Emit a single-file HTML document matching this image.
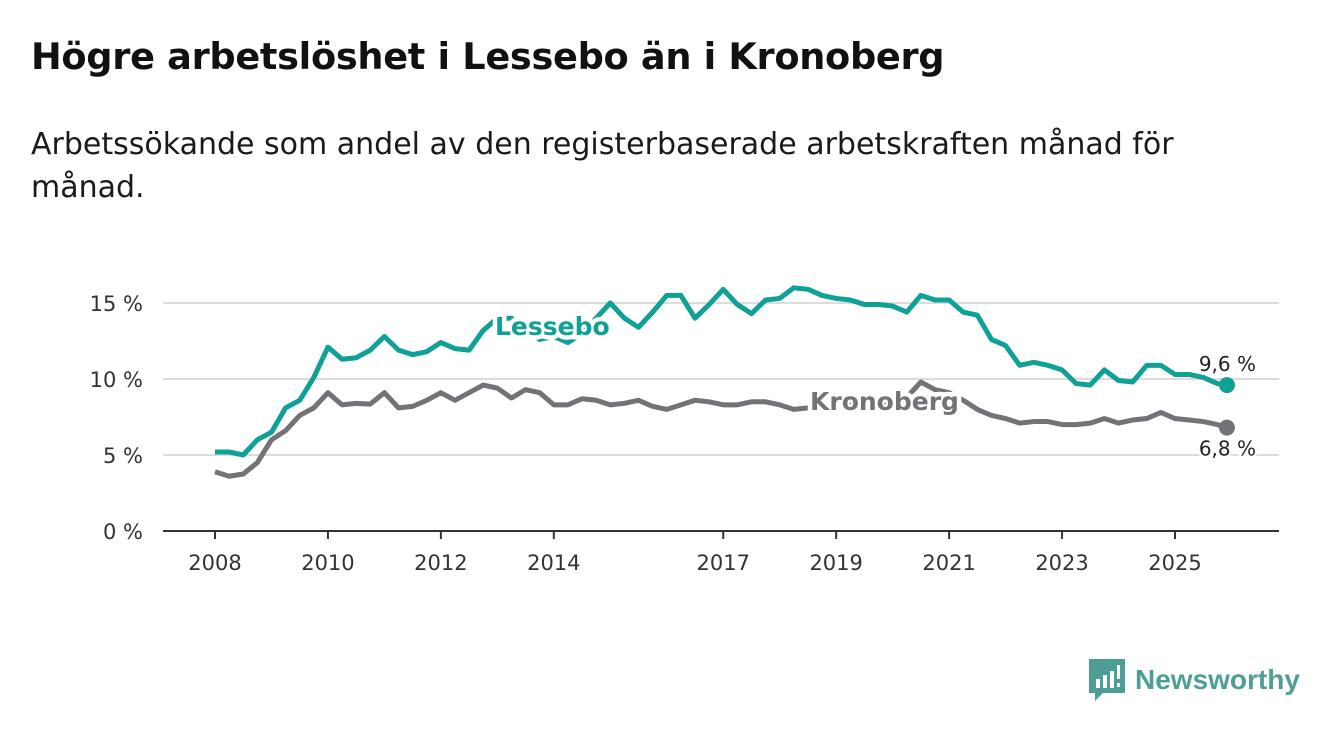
<!DOCTYPE html>
<html><head><meta charset="utf-8">
<style>
body{margin:0;background:#fff;width:1340px;height:734px;overflow:hidden;font-family:"DejaVu Sans","Liberation Sans",sans-serif;color:#111}
h1{position:absolute;left:31px;top:35px;margin:0;font-size:36.7px;font-weight:bold;letter-spacing:-0.3px}
p{position:absolute;left:31px;top:123px;margin:0;font-size:30px;line-height:43px;width:1250px;color:#1a1a1a}
svg{position:absolute;left:0;top:0}
</style></head><body>
<h1>Högre arbetslöshet i Lessebo än i Kronoberg</h1>
<p>Arbetssökande som andel av den registerbaserade arbetskraften månad för<br>månad.</p>
<svg id="c" width="1340" height="734"></svg>
<script>
const lessebo=[5.2,5.2,5.0,6.0,6.5,8.1,8.6,10.1,12.1,11.3,11.4,11.9,12.8,11.9,11.6,11.8,12.4,12.0,11.9,13.2,14.0,14.0,13.3,12.6,12.8,12.4,13.0,14.0,15.0,14.0,13.4,14.4,15.5,15.5,14.0,14.9,15.9,14.9,14.3,15.2,15.3,16.0,15.9,15.5,15.3,15.2,14.9,14.9,14.8,14.4,15.5,15.2,15.2,14.4,14.2,12.6,12.2,10.9,11.1,10.9,10.6,9.7,9.6,10.6,9.9,9.8,10.9,10.9,10.3,10.3,10.1,9.7,9.6];
const kronoberg=[3.9,3.6,3.75,4.5,6.0,6.6,7.6,8.1,9.1,8.3,8.4,8.35,9.1,8.1,8.2,8.6,9.1,8.6,9.1,9.6,9.4,8.75,9.3,9.1,8.3,8.3,8.7,8.6,8.3,8.4,8.6,8.2,8.0,8.3,8.6,8.5,8.3,8.3,8.5,8.5,8.3,8.0,8.1,8.3,8.3,8.4,8.2,8.4,8.6,8.8,9.8,9.3,9.1,8.6,8.0,7.6,7.4,7.1,7.2,7.2,7.0,7.0,7.1,7.4,7.1,7.3,7.4,7.8,7.4,7.3,7.2,7.0,6.8];
const dates=[];for(let i=0;i<72;i++)dates.push(2008+i*0.25);dates.push(2025.92);
const yTicks=[0,5,10,15];
const xTicks=[2008,2010,2012,2014,2017,2019,2021,2023,2025];
const X=d=>215+(d-2008)*56.47, Y=v=>531-v*15.2;
const s=document.getElementById('c'),NS='http://www.w3.org/2000/svg';
function mk(t,a,txt){const e=document.createElementNS(NS,t);for(const k in a)e.setAttribute(k,a[k]);if(txt!=null)e.textContent=txt;s.appendChild(e);return e;}
yTicks.forEach(v=>{
 if(v>0){const g=mk('line',{x1:163,x2:1279,y1:Y(v),y2:Y(v),stroke:'#dcdcdc','stroke-width':2});
 
 }
 const t=mk('text',{x:143,y:Y(v)+8,'text-anchor':'end','font-size':21,fill:'#333'},v+' %');
 
 
});
const ax=mk('line',{x1:163,x2:1279,y1:531,y2:531,stroke:'#333','stroke-width':2});


xTicks.forEach(d=>{
 const tk=mk('line',{x1:X(d),x2:X(d),y1:531,y2:539,stroke:'#333','stroke-width':2});
 
 
 const t=mk('text',{x:X(d),y:570,'text-anchor':'middle','font-size':21,fill:'#333'},d);
 
 
});
function line(vals,col,name){
 const p=mk('polyline',{points:vals.map((v,i)=>X(dates[i])+','+Y(v)).join(' '),fill:'none',stroke:col,'stroke-width':5,'stroke-linejoin':'round'});
 
 
 const n=vals.length-1;
 const c=mk('circle',{cx:X(dates[n]),cy:Y(vals[n]),r:8,fill:col});
 
 
}
line(kronoberg,'#737277','kronoberg');
line(lessebo,'#0fa196','lessebo');
function lab(x,y,txt,col,name,size,bold,anchor){
 const t=mk('text',{x:x,y:y,'font-size':size,'font-weight':bold?'bold':'normal',fill:col,stroke:'#fff','stroke-width':bold?9:5,'paint-order':'stroke','text-anchor':anchor||'start'},txt);
 
 
}
lab(495,335,'Lessebo','#0fa196','lessebo-label',25,true);
lab(810,410,'Kronoberg','#737277','kronoberg-label',25,true);
const nL=lessebo.length-1;
lab(1256,Y(lessebo[nL])-14,String(lessebo[nL]).replace('.',',')+' %','#222','lessebo-value-label',20,false,'end');
lab(1256,Y(kronoberg[nL])+28,String(kronoberg[nL]).replace('.',',')+' %','#222','kronoberg-value-label',20,false,'end');
</script>
<div style="position:absolute;left:1089px;top:660px;height:40px;display:flex;align-items:center">
 <svg width="36" height="42" viewBox="0 0 36 42" style="position:static">
  <path d="M0 0H36V34H14L6 42V34H0Z" fill="#4f9e96"/>
  <rect x="7" y="20" width="4" height="9" fill="#fff"/><rect x="14" y="16" width="4" height="13" fill="#fff"/><rect x="21" y="12" width="4" height="17" fill="#fff"/><rect x="28" y="6" width="3" height="14" fill="#fff"/><rect x="28" y="24" width="3" height="4" fill="#fff"/>
 </svg>
 <span style="margin-left:10px;font-family:'Liberation Sans',sans-serif;font-size:28px;color:#4f9e96;font-weight:bold">Newsworthy</span>
</div>
</body></html>
